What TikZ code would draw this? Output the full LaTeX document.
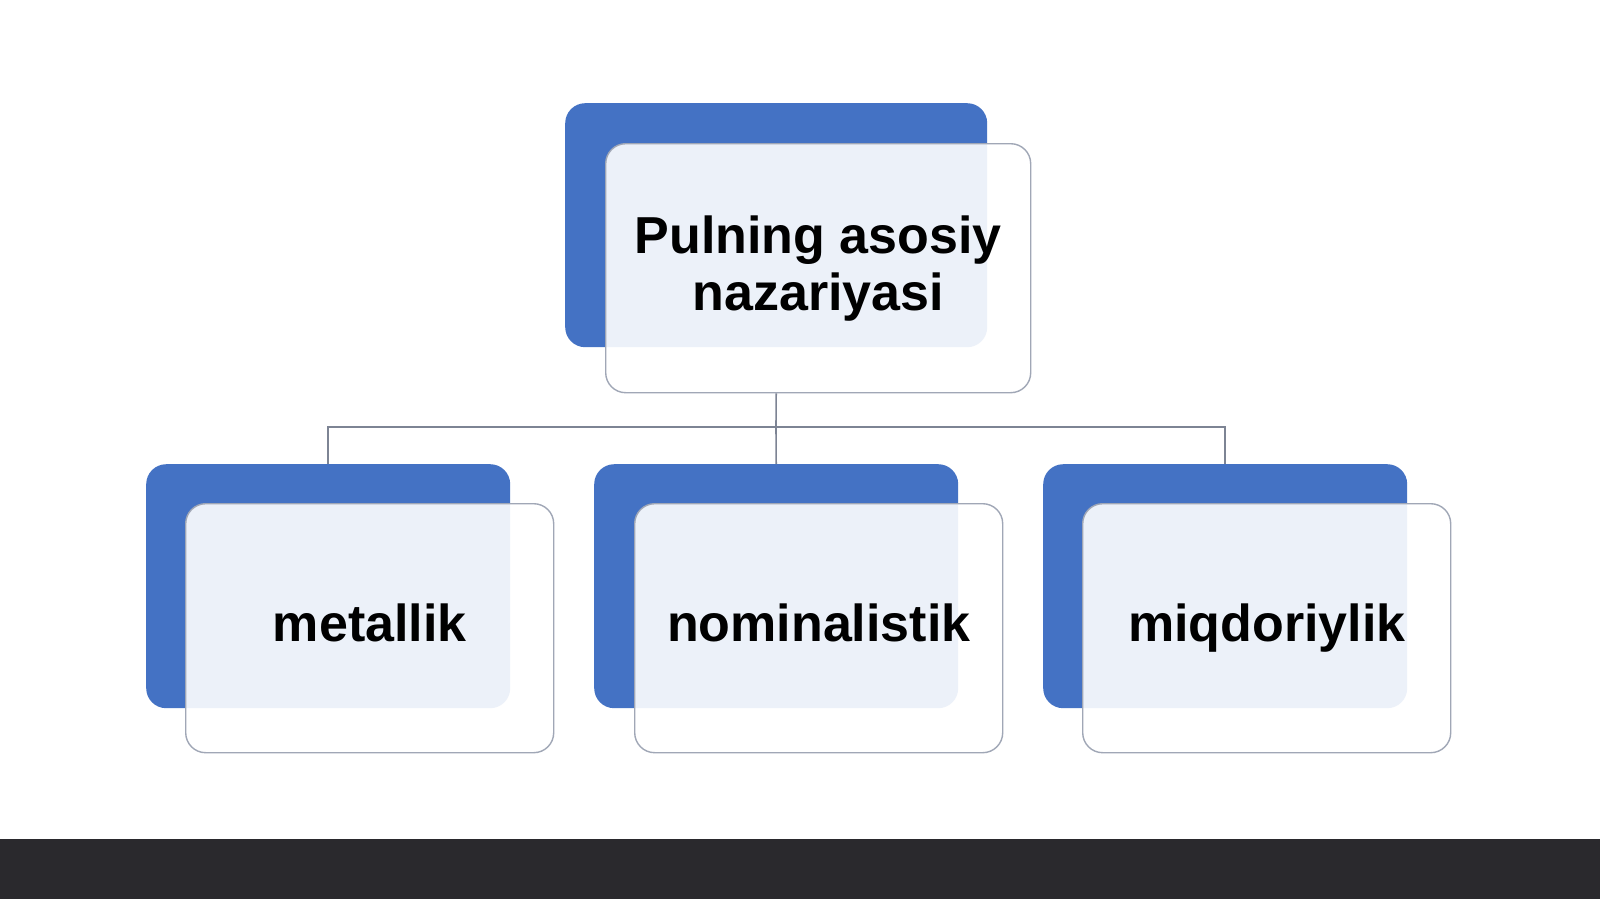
\documentclass[tikz,border=0pt]{standalone}
\usepackage{fontspec}
\setmainfont{Liberation Sans}
\definecolor{boxblue}{HTML}{4472C4}
\definecolor{boxedge}{HTML}{A0A7B6}
\definecolor{linegray}{HTML}{7D8494}
\definecolor{barcol}{HTML}{2A292D}
\begin{document}
\begin{tikzpicture}[x=1pt,y=-1pt,
  backbox/.style={fill=boxblue,draw=none,rounded corners=20pt,anchor=north west,inner sep=0pt,minimum height=244pt},
  frontbox/.style={fill=white,fill opacity=0.9,text opacity=1,draw=boxedge,line width=1.4pt,rounded corners=20pt,anchor=north west,inner sep=0pt,minimum height=249pt,align=center,font=\fontsize{52}{57}\selectfont\bfseries},
  oneline/.style={text height=38pt,text depth=11pt},
  conn/.style={draw=linegray,line width=1.6pt}]
\useasboundingbox (0,0) rectangle (1600,899);
\fill[white] (0,0) rectangle (1600,899);
\fill[barcol] (0,839) rectangle (1600,899);
% top
\node[backbox,minimum width=422pt] (tb) at (565,103) {};
\node[frontbox,minimum width=425pt] (tw) at (605,143) {Pulning asosiy\\nazariyasi};
% lower
\node[backbox,minimum width=364pt] (b1) at (146,464) {};
\node[frontbox,oneline,minimum width=368pt] (w1) at (185,503) {metallik};
\node[backbox,minimum width=364pt] (b2) at (594,464) {};
\node[frontbox,oneline,minimum width=368pt] (w2) at (634,503) {nominalistik};
\node[backbox,minimum width=364pt] (b3) at (1043,464) {};
\node[frontbox,oneline,minimum width=368pt] (w3) at (1082,503) {miqdoriylik};
% connectors
\coordinate (j) at (776,427);
\draw[conn] (tw.south -| tb.center) -- (j);
\draw[conn] (j) -| (b1.north);
\draw[conn] (j) -- (b2.north);
\draw[conn] (j) -| (b3.north);
\end{tikzpicture}
\end{document}
